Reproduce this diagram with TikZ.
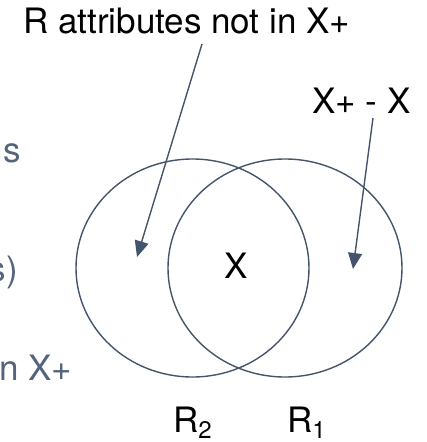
\documentclass[tikz,border=0pt]{standalone}
\usepackage{fontspec}
\setmainfont{TeX Gyre Heros}
\usetikzlibrary{arrows.meta}
\definecolor{slate}{HTML}{44546A}
\definecolor{fragtxt}{HTML}{53647C}
\tikzset{
  lbl/.style={inner sep=0pt, font=\fontsize{35}{40}\selectfont, text=black},
  frag/.style={inner sep=0pt, font=\fontsize{35}{40}\selectfont, text=fragtxt},
  venn/.style={draw=slate, line width=1.4pt},
  arr/.style={draw=slate, line width=1.4pt, -{Triangle[length=16pt,width=14pt]}}
}
\newcommand{\subsc}[1]{{\fontsize{24}{24}\selectfont\raisebox{-6pt}{#1}}}
\begin{document}
\begin{tikzpicture}[x=1pt,y=-1pt]
\useasboundingbox (0,0) rectangle (427,442);
% fragments of text cut by the left edge
\node[frag, anchor=base east] (f1) at (21,162) {ns};
\node[frag, anchor=base east] (f2) at (18,281) {s)};
\node[frag, anchor=base west] (f3) at (-1,380) {n X+};
% Venn ellipses
\draw[venn] (192.5,268) ellipse [x radius=116.5, y radius=109];
\draw[venn] (285,268) ellipse [x radius=117, y radius=109];
% labels
\node[lbl, anchor=base west] (top) at (23,33) {R attributes not in X+};
\node[lbl, anchor=base west] (xpx) at (312,113) {X+ - X};
\node[lbl, anchor=base] (x) at (236,278) {X};
\node[lbl, anchor=base west] (r2) at (173,432) {R\subsc{2}};
\node[lbl, anchor=base west] (r1) at (287,432) {R\subsc{1}};
% arrows
\coordinate (a1s) at (202,44);
\coordinate (a1e) at (137,257);
\coordinate (a2s) at (373,118);
\coordinate (a2e) at (353,269);
\draw[arr] (a1s) -- (a1e);
\draw[arr] (a2s) -- (a2e);
\end{tikzpicture}
\end{document}
